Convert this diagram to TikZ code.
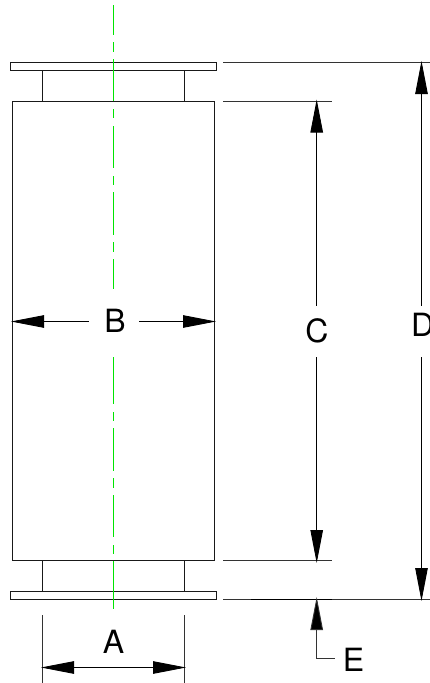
\documentclass[tikz,border=0pt]{standalone}
\usepackage{fontspec}
\setmainfont{TeX Gyre Heros}
\usetikzlibrary{arrows.meta}
\definecolor{clgreen}{rgb}{0,0.9,0}
\tikzset{
  x=1pt,y=-1pt,
  outline/.style={draw=black!90,line width=0.95pt},
  extline/.style={draw=black!80,line width=0.9pt},
  dimline/.style={draw=black,line width=0.85pt},
  headend/.style={-{Triangle[length=33pt,width=12.5pt,fill=black]}},
  headstart/.style={{Triangle[length=33pt,width=12.5pt,fill=black]}-},
  headboth/.style={{Triangle[length=33pt,width=12.5pt,fill=black]}-{Triangle[length=33pt,width=12.5pt,fill=black]}},
  axisline/.style={draw=clgreen,line width=1.1pt},
  dimlabel/.style={inner sep=0pt,anchor=base,font=\fontsize{32}{32}\selectfont,text=black},
}
\begin{document}
\begin{tikzpicture}
\useasboundingbox (0,0) rectangle (430,683);
\fill[white] (0,0) rectangle (430,683);
% body
\draw[outline] (10.5,62.7) rectangle (216.5,70.7);
\draw[outline] (42.7,70.7) -- (42.7,101) (184.5,70.7) -- (184.5,101);
\draw[outline] (12.5,101) rectangle (214.5,560.7);
\draw[outline] (42.7,560.7) -- (42.7,591.5) (184.5,560.7) -- (184.5,591.5);
\draw[outline] (10.5,591.5) rectangle (216.5,599.3);
% centre line
\draw[axisline] (113.5,5) -- (113.5,35);
\draw[axisline] (113.5,42) -- (113.5,52);
\draw[axisline] (113.5,59) -- (113.5,101);
\draw[axisline] (113.5,109) -- (113.5,118);
\draw[axisline] (113.5,126) -- (113.5,168);
\draw[axisline] (113.5,176) -- (113.5,185);
\draw[axisline] (113.5,192) -- (113.5,235);
\draw[axisline] (113.5,242) -- (113.5,252);
\draw[axisline] (113.5,259) -- (113.5,289);
\draw[axisline] (113.5,357) -- (113.5,404);
\draw[axisline] (113.5,412) -- (113.5,421);
\draw[axisline] (113.5,428) -- (113.5,471);
\draw[axisline] (113.5,478) -- (113.5,488);
\draw[axisline] (113.5,495) -- (113.5,537);
\draw[axisline] (113.5,545) -- (113.5,554);
\draw[axisline] (113.5,561) -- (113.5,609);
% extension lines
\draw[extline] (223,62.7) -- (430,62.7);
\draw[extline] (223,101) -- (332,101);
\draw[extline] (223,560.7) -- (332,560.7);
\draw[extline] (223,599) -- (430,599);
\draw[dimline] (251,599) -- (332,599);
\draw[extline] (42.7,615) -- (42.7,683);
\draw[extline] (184.5,615) -- (184.5,683);
% labels
\node[dimlabel] (A) at (113.5,653) {A};
\node[dimlabel] (B) at (115,332) {B};
\node[dimlabel] (C) at (317,342.5) {C};
\node[dimlabel,anchor=base west] (D) at (411,336) {D};
\node[dimlabel] (E) at (353.5,671) {E};
% dimension coordinates
\coordinate (al) at (41,667.5); \coordinate (ar) at (186,667.5);
\coordinate (bl) at (11,321.5); \coordinate (blm) at (89,321.5);
\coordinate (brm) at (139,321.5); \coordinate (br) at (216,321.5);
\coordinate (ct) at (316.7,99.5); \coordinate (ctm) at (316.7,305.5);
\coordinate (cbm) at (316.7,357); \coordinate (cb) at (316.7,563);
\coordinate (dt) at (421.5,61); \coordinate (dtm) at (421.5,305.5);
\coordinate (dbm) at (421.5,357); \coordinate (db) at (421.5,601);
\coordinate (et) at (316.7,597); \coordinate (ec) at (316.7,658.5); \coordinate (ee) at (335,658.5);
\draw[dimline,headboth] (al) -- (ar);
\draw[dimline,headstart] (bl) -- (blm);
\draw[dimline,headend] (brm) -- (br);
\draw[dimline,headstart] (ct) -- (ctm);
\draw[dimline,headend] (cbm) -- (cb);
\draw[dimline,headstart] (dt) -- (dtm);
\draw[dimline,headend] (dbm) -- (db);
\draw[extline,headstart] (et) -- (ec) -- (ee);
\end{tikzpicture}
\end{document}
